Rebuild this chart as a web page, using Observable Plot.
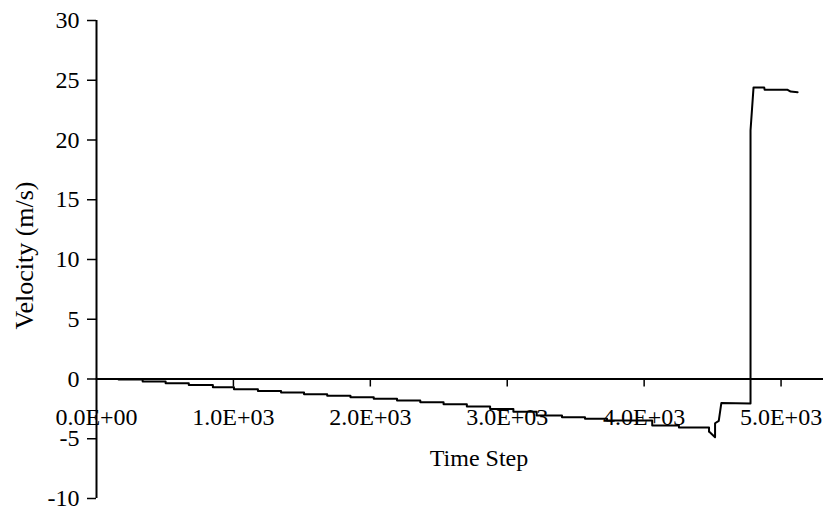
<!DOCTYPE html>
<html>
<head>
<meta charset="utf-8">
<script src="https://cdn.jsdelivr.net/npm/d3@7"></script>
<script src="https://cdn.jsdelivr.net/npm/@observablehq/plot@0.6"></script>
<style>
  html, body { margin: 0; padding: 0; background: #fff; }
</style>
</head>
<body>
<div id="chart"></div>
<script>
// Staircase part (step-after)
const stepTime = [0, 161, 337, 505, 674, 850, 1004, 1179, 1348, 1516, 1685, 1855, 2025, 2195, 2365, 2535, 2705, 2875, 3045, 3215, 3400, 3568, 3729, 4059, 4254, 4474];
const stepVel  = [0, -0.05, -0.2, -0.35, -0.5, -0.68, -0.85, -1.0, -1.13, -1.27, -1.4, -1.52, -1.65, -1.8, -1.95, -2.12, -2.3, -2.5, -2.75, -3.05, -3.2, -3.33, -3.47, -3.89, -4.06, -4.39];
// Final part (linear, corners)
const tailTime = [4474, 4518, 4518, 4545, 4564, 4777, 4777, 4799, 4877, 4880, 5048, 5070, 5121];
const tailVel  = [-4.39, -4.87, -3.7, -3.5, -2.0, -2.05, 20.8, 24.4, 24.4, 24.2, 24.2, 24.05, 24.0];

const xTicks = [0, 1000, 2000, 3000, 4000, 5000];
const xTickLabels = ["0.0E+00", "1.0E+03", "2.0E+03", "3.0E+03", "4.0E+03", "5.0E+03"];
const yTicks = [-10, -5, 0, 5, 10, 15, 20, 25, 30];

const steps = stepTime.map((t, i) => ({t, v: stepVel[i]}));
const tail = tailTime.map((t, i) => ({t, v: tailVel[i]}));
const xt = xTicks.map((t, i) => ({t, label: xTickLabels[i]}));

const chart = Plot.plot({
  width: 825,
  height: 510,
  marginLeft: 96,
  marginRight: 2,
  marginTop: 20,
  marginBottom: 12,
  style: {fontFamily: "'Liberation Serif', 'Times New Roman', serif", color: "#000", background: "#fff"},
  x: {domain: [0, 5310], axis: null},
  y: {domain: [-10, 30]},
  marks: [
    Plot.axisY({ticks: yTicks, tickSize: 9, tickPadding: 8, fontSize: 24, tickFormat: d => String(d), label: null, strokeWidth: 1.5}),
    Plot.ruleX([0], {stroke: "#000", strokeWidth: 2}),
    Plot.ruleY([0], {stroke: "#000", strokeWidth: 2}),
    Plot.ruleX(xt.filter(d => d.t > 0), {x: "t", y1: 0, y2: 0, insetBottom: -8, stroke: "#000", strokeWidth: 1.5}),
    Plot.text(xt, {x: "t", y: 0, text: "label", dy: 38, fontSize: 24, fill: "#000"}),
    Plot.text(["Velocity (m/s)"], {frameAnchor: "left", textAnchor: "middle", rotate: -90, dx: -72, dy: -4, fontSize: 26, fill: "#000"}),
    Plot.text(["Time Step"], {frameAnchor: "bottom", dx: 19, dy: -33, fontSize: 24, fill: "#000"}),
    Plot.line(steps, {x: "t", y: "v", curve: "step-after", stroke: "#000", strokeWidth: 2}),
    Plot.line(tail, {x: "t", y: "v", stroke: "#000", strokeWidth: 2})
  ]
});
document.getElementById("chart").appendChild(chart);
</script>
</body>
</html>
